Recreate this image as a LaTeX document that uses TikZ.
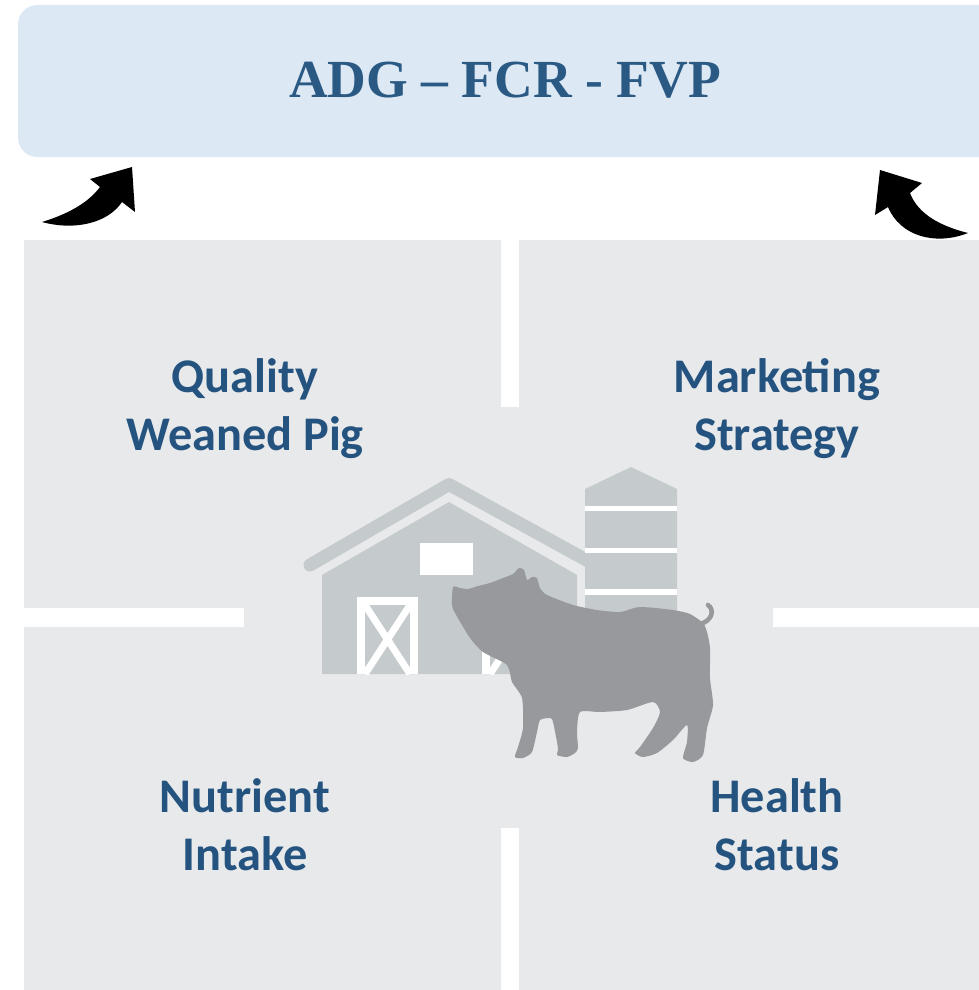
\documentclass[tikz,border=0pt]{standalone}
\usepackage{fontspec}
\usepackage{tikz}
\usepackage{xcolor}
\usetikzlibrary{positioning}
\newfontfamily\titlefont{Liberation Serif}
\newfontfamily\labelfont{Carlito}
\definecolor{headblue}{HTML}{DCE8F4}
\definecolor{headtext}{HTML}{2A5A84}
\definecolor{labeltext}{HTML}{245380}
\definecolor{panelgrey}{HTML}{E8E9EB}
\definecolor{barngrey}{HTML}{C5CACD}
\definecolor{piggrey}{HTML}{98999C}

\begin{document}
\begin{tikzpicture}[x=0.02cm,y=-0.02cm]
\tikzstyle{every node}+=[inner sep=0pt]
\tikzstyle{quad}=[text=labeltext, font=\labelfont\bfseries\fontsize{27.5}{32.9}\selectfont, align=center, anchor=base]
\useasboundingbox (0,0) rectangle (979,990);
\clip (0,0) rectangle (979,990);
\fill [headblue, rounded corners=11pt] (18,5) rectangle (1000,157);
\node (title) at (505,80) [text=headtext, font=\titlefont\bfseries\fontsize{30.5}{36}\selectfont] {ADG – FCR - FVP};
\fill [black] (42,222) .. controls (75,231) and (108,223) .. (122,202) -- (135,212) -- (132,167) -- (90,179) -- (100,187) .. controls (88,203) and (68,214) .. (42,222) -- cycle;
\fill [black] (968,233) .. controls (935,246) and (900,236) .. (888,207) -- (875,215) -- (880,170) -- (922,183) -- (910,193) .. controls (918,214) and (940,226) .. (968,233) -- cycle;
\fill [panelgrey] (24,240) rectangle (979,990);
\fill [white] (501,240) rectangle (519,407);
\fill [white] (501,828) rectangle (519,990);
\fill [white] (24,608) rectangle (244,627);
\fill [white] (773,608) rectangle (979,627);
\draw [barngrey, line width=7.4pt, line cap=round, line join=round] (310,565) -- (449,484.5) -- (590,562);
\fill [barngrey] (322,674) -- (322,575) -- (449,502) -- (577,575) -- (577,674) -- cycle;
\fill [barngrey] (585,612) -- (585,489) -- (631,467) -- (677,489) -- (677,612) -- cycle;
\fill [white] (585,506) rectangle (677,511);
\fill [white] (585,548) rectangle (677,553);
\fill [white] (585,589) rectangle (677,595);
\fill [white] (420,543) rectangle (473,575);
\foreach \d in {357,482} {
  \fill [white] (\d,597) rectangle (\d+61,674);
  \fill [barngrey] (\d+8,605) rectangle (\d+53,674);
  \begin{scope}
    \clip (\d+8,605) rectangle (\d+53,674);
    \draw [white, line width=4pt] (\d+8,605) -- (\d+53,674) (\d+53,605) -- (\d+8,674);
  \end{scope}
}
\draw [piggrey, line width=2.6pt, line cap=round] (700,624) .. controls (712,621) and (715,610) .. (708,605);
\fill [piggrey] plot [smooth cycle, tension=0.4] coordinates {
  (453,587) (452,605) (455,613) (470,638) (483,652) (507,665) (512,682) (522,698)
  (523,728) (518,747) (515,757) (523,758) (532,752) (537,732) (540,720) (550,718)
  (553,722) (558,748) (557,755) (567,757) (575,753) (578,748) (577,732) (580,712)
  (600,712) (627,710) (653,702) (660,712) (653,728) (640,747) (635,753) (643,757)
  (657,753) (673,740) (687,725) (687,742) (683,758) (693,762) (703,755) (707,728)
  (713,705) (710,678) (710,648) (707,632) (703,623) (690,614) (673,610) (640,607)
  (620,612) (597,610) (573,605) (547,595) (540,588) (537,578) (532,577) (527,580)
  (524,570) (519,568) (513,574) (503,578) (490,583) (478,586) (468,589) (460,588)};
\node (quality) at (245,450) [quad] {Quality\\Weaned Pig};
\node (marketing) at (777,450) [quad] {Marketing\\Strategy};
\node (nutrient) at (245,870) [quad] {Nutrient\\Intake};
\node (health) at (777,870) [quad] {Health\\Status};
\end{tikzpicture}
\end{document}
